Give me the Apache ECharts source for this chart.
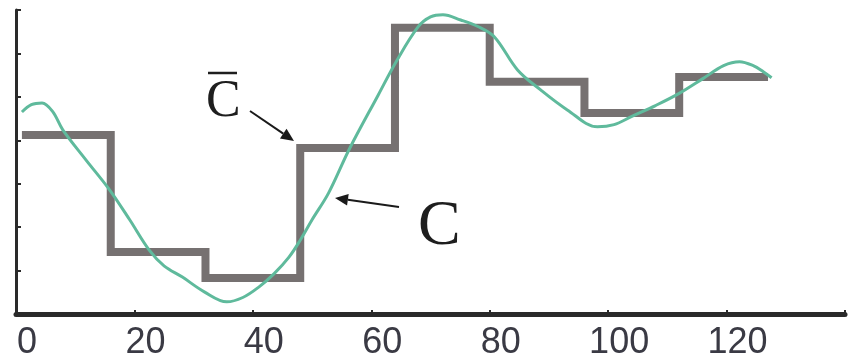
<!DOCTYPE html>
<html>
<head>
<meta charset="utf-8">
<script src="https://cdn.jsdelivr.net/npm/echarts@6/dist/echarts.min.js"></script>
<style>
  html, body { margin: 0; padding: 0; background: #ffffff; }
  #chart { width: 848px; height: 363px; }
</style>
</head>
<body>
<div id="chart"></div>
<script>
// Piecewise-constant average (C-bar): each level holds from its start to the next start
const stepStarts = [1, 16, 32, 48, 64, 80, 96, 112];
const stepLevels = [4.12, 1.43, 0.83, 3.82, 6.59, 5.35, 4.63, 5.46];
const stepEnd = 127;

// Continuous signal (C)
const curveX = [1, 2.6, 4.4, 6.2, 7.9, 11.8, 15.8, 19.2, 22.5, 25.0, 28.1, 31.8, 35.6, 38.3, 41.0, 43.6, 46.1, 48.0, 50.0, 52.8, 56.3, 61.2, 64.2, 67.9, 70.0, 72.1, 75.1, 78.0, 80.8, 84.7, 88.6, 93.1, 98.2, 101.0, 104.0, 108.0, 112.0, 116.0, 119.5, 122.2, 124.5, 126.2, 127.6];
const curveY = [4.65, 4.82, 4.86, 4.66, 4.24, 3.55, 2.86, 2.17, 1.47, 1.11, 0.85, 0.51, 0.28, 0.38, 0.62, 0.93, 1.31, 1.70, 2.17, 2.79, 3.80, 5.05, 5.81, 6.61, 6.84, 6.89, 6.77, 6.62, 6.38, 5.62, 5.16, 4.70, 4.31, 4.36, 4.55, 4.80, 5.08, 5.42, 5.72, 5.81, 5.72, 5.58, 5.44];

// x-axis tick labels
const xTicks = [0, 20, 40, 60, 80, 100, 120];

const stepData = stepStarts.map((x, i) => [x, stepLevels[i]]);
stepData.push([stepEnd, stepLevels[stepLevels.length - 1]]);
const curveData = curveX.map((x, i) => [x, curveY[i]]);

const chart = echarts.init(document.getElementById('chart'), null, { renderer: 'canvas' });

// Arrow helper: shaft plus a filled triangular head at the tip
function arrow(x1, y1, x2, y2, head) {
  const ang = Math.atan2(y2 - y1, x2 - x1);
  const bx = x2 - head * Math.cos(ang);
  const by = y2 - head * Math.sin(ang);
  const w = head * 0.45;
  const px = -Math.sin(ang) * w, py = Math.cos(ang) * w;
  return [
    { type: 'line', shape: { x1: x1, y1: y1, x2: bx, y2: by },
      style: { stroke: '#1a1a1a', lineWidth: 2 }, z: 10 },
    { type: 'polygon', shape: { points: [[x2, y2], [bx + px, by + py], [bx - px, by - py]] },
      style: { fill: '#1a1a1a' }, z: 10 }
  ];
}

chart.setOption({
  backgroundColor: '#ffffff',
  animation: false,
  grid: { left: 16, right: 0, top: 10, bottom: 49, containLabel: false },
  xAxis: {
    type: 'value',
    min: 0,
    max: 140,
    interval: 20,
    axisLine: { show: true, lineStyle: { color: '#2a2a2a', width: 5 } },
    axisTick: { show: true, inside: true, length: 4, lineStyle: { color: '#2a2a2a', width: 2 } },
    splitLine: { show: false },
    axisLabel: {
      show: true,
      margin: 11,
      padding: [0, 0, 0, 22],
      color: '#3a3a44',
      fontSize: 36,
      fontFamily: "'Liberation Sans', sans-serif",
      formatter: function (v) { return xTicks.indexOf(v) >= 0 ? String(v) : ''; }
    }
  },
  yAxis: {
    type: 'value',
    min: 0,
    max: 7,
    interval: 1,
    axisLine: { show: true, lineStyle: { color: '#2a2a2a', width: 3 } },
    axisTick: { show: true, inside: true, length: 5, lineStyle: { color: '#2a2a2a', width: 2 } },
    axisLabel: { show: false },
    splitLine: { show: false }
  },
  series: [
    {
      name: 'C̄',
      type: 'line',
      step: 'end',
      data: stepData,
      symbol: 'none',
      lineStyle: { color: '#767171', width: 8, join: 'miter' },
      z: 2
    },
    {
      name: 'C',
      type: 'line',
      smooth: 0.35,
      data: curveData,
      symbol: 'none',
      lineStyle: { color: '#5fba9c', width: 3 },
      z: 3
    }
  ],
  graphic: [
    { type: 'text', left: 206, top: 76, z: 10,
      style: { text: 'C', font: "52px 'Liberation Serif', serif", fill: '#1e1e1e' } },
    { type: 'line', shape: { x1: 208, y1: 73, x2: 237, y2: 73 },
      style: { stroke: '#1e1e1e', lineWidth: 2.5 }, z: 10 },
    { type: 'text', left: 418, top: 195, z: 10,
      style: { text: 'C', font: "64px 'Liberation Serif', serif", fill: '#1e1e1e' } }
  ].concat(arrow(250, 111, 294, 141, 13)).concat(arrow(399, 207, 335, 198, 13))
});
</script>
</body>
</html>
